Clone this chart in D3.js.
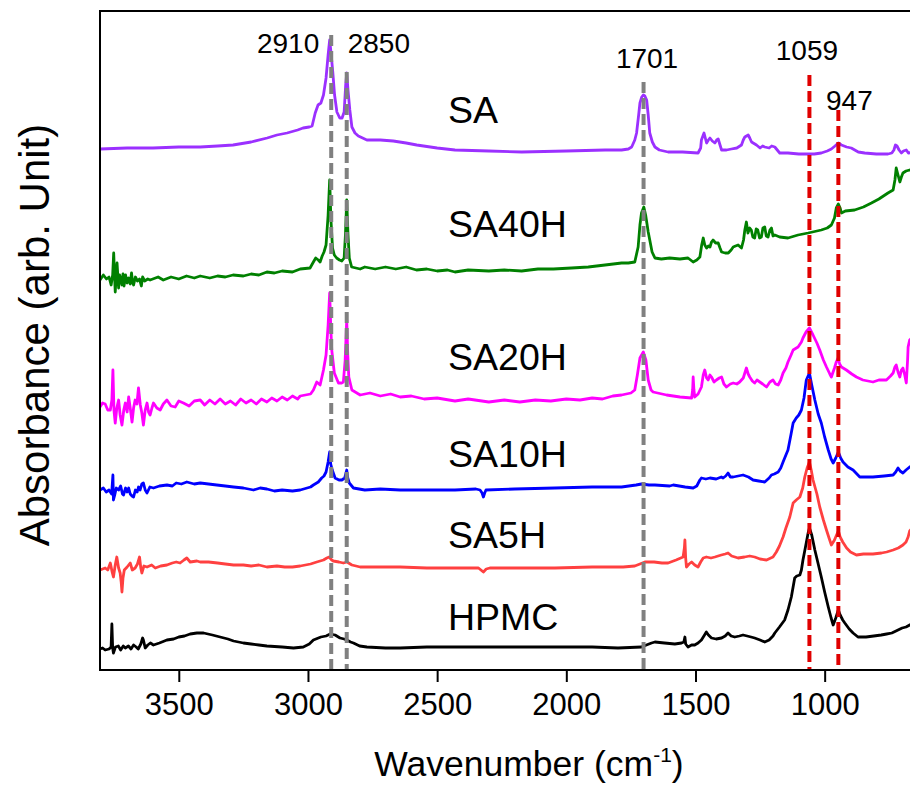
<!DOCTYPE html>
<html>
<head>
<meta charset="utf-8">
<script src="https://cdn.jsdelivr.net/npm/d3@7"></script>
<style>
  body { margin: 0; background: #fff; }
  svg { display: block; }
  text { font-family: "Liberation Sans", Arial, Helvetica, sans-serif; fill: #000; }
</style>
</head>
<body>
<svg id="chart" width="910" height="785"></svg>
<script>
// ---- data: FTIR absorbance spectra, [wavenumber (cm-1), stacked absorbance (arb.)] ----
const seriesNames  = ["SA", "SA40H", "SA20H", "SA10H", "SA5H", "HPMC"];
const seriesColors = ["#9b30ff", "#008000", "#ff00ff", "#0000ff", "#ff4040", "#000000"];
const xTicks = [3500, 3000, 2500, 2000, 1500, 1000];

// marked bands
const peakWn     = [2910, 2850, 1701, 1059, 947];
const peakLabels = ["2910", "2850", "1701", "1059", "947"];
const peakColors = ["#808080", "#808080", "#808080", "#e00000", "#e00000"];

const spectrumSA = [[3805,5.21],[3700,5.22],[3600,5.22],[3500,5.23],[3417,5.23],[3350,5.24],[3290,5.25],[3220,5.28],[3158,5.32],[3120,5.35],[3081,5.37],[3040,5.40],[3019,5.42],[2995,5.43],[2984,5.44],[2972,5.57],[2961,5.65],[2950,5.67],[2940,5.75],[2930,5.92],[2922,6.15],[2916,6.30],[2910,6.15],[2904,5.98],[2897,5.75],[2888,5.58],[2877,5.52],[2868,5.52],[2860,5.58],[2854,5.85],[2850,5.97],[2845,5.80],[2838,5.60],[2830,5.43],[2818,5.37],[2805,5.34],[2772,5.30],[2720,5.30],[2670,5.29],[2620,5.27],[2579,5.25],[2500,5.22],[2431,5.20],[2300,5.19],[2173,5.18],[2000,5.19],[1850,5.20],[1786,5.20],[1760,5.21],[1747,5.23],[1735,5.30],[1728,5.37],[1720,5.55],[1715,5.67],[1708,5.73],[1702,5.75],[1696,5.74],[1689,5.70],[1683,5.55],[1677,5.37],[1667,5.28],[1657,5.23],[1640,5.20],[1606,5.18],[1550,5.18],[1490,5.17],[1480,5.22],[1477,5.30],[1467,5.37],[1460,5.30],[1457,5.27],[1450,5.30],[1444,5.32],[1435,5.29],[1425,5.27],[1418,5.30],[1412,5.31],[1405,5.25],[1399,5.20],[1380,5.20],[1361,5.21],[1340,5.22],[1322,5.25],[1315,5.30],[1309,5.33],[1296,5.35],[1290,5.32],[1283,5.28],[1264,5.25],[1250,5.22],[1240,5.24],[1232,5.23],[1215,5.22],[1205,5.24],[1193,5.23],[1174,5.17],[1142,5.17],[1100,5.16],[1064,5.16],[1040,5.16],[1013,5.17],[990,5.19],[974,5.21],[960,5.24],[947,5.27],[935,5.25],[915,5.23],[897,5.22],[870,5.18],[845,5.17],[800,5.16],[755,5.16],[740,5.17],[732,5.20],[726,5.25],[720,5.24],[712,5.20],[703,5.17],[695,5.19],[684,5.20],[676,5.17],[650,5.18]];

const spectrumSA40H = [[3805,3.90],[3792,3.95],[3780,3.91],[3770,3.93],[3762,3.85],[3756,3.95],[3752,4.17],[3748,3.90],[3746,3.78],[3742,3.95],[3739,4.07],[3735,3.90],[3733,3.82],[3729,3.95],[3724,3.90],[3720,3.85],[3716,3.96],[3712,3.84],[3706,3.95],[3700,3.87],[3694,3.92],[3688,3.86],[3683,3.97],[3679,3.88],[3675,3.85],[3668,3.93],[3660,3.89],[3652,3.91],[3645,3.84],[3640,3.93],[3632,3.89],[3620,3.91],[3611,3.90],[3580,3.93],[3560,3.90],[3530,3.93],[3500,3.91],[3470,3.94],[3440,3.92],[3417,3.94],[3380,3.92],[3350,3.94],[3320,3.93],[3290,3.95],[3250,3.94],[3220,3.96],[3190,3.95],[3159,3.98],[3130,3.97],[3100,3.99],[3060,3.98],[3030,4.01],[2992,4.02],[2979,4.08],[2970,4.12],[2960,4.10],[2953,4.08],[2945,4.14],[2938,4.18],[2930,4.25],[2922,4.55],[2916,4.90],[2911,4.50],[2905,4.22],[2898,4.15],[2889,4.12],[2878,4.10],[2869,4.09],[2860,4.12],[2855,4.35],[2850,4.70],[2845,4.35],[2840,4.12],[2831,4.03],[2798,4.01],[2780,4.03],[2740,4.01],[2700,4.03],[2660,4.01],[2620,4.03],[2580,4.00],[2540,4.01],[2500,3.99],[2460,4.00],[2431,3.98],[2380,4.00],[2300,3.99],[2240,4.00],[2173,3.99],[2110,4.01],[2050,4.01],[1980,4.02],[1915,4.03],[1850,4.05],[1786,4.07],[1760,4.07],[1735,4.08],[1722,4.23],[1715,4.45],[1709,4.57],[1700,4.63],[1693,4.55],[1690,4.50],[1683,4.38],[1677,4.30],[1668,4.18],[1657,4.12],[1632,4.11],[1600,4.12],[1560,4.11],[1529,4.12],[1509,4.08],[1495,4.10],[1483,4.13],[1476,4.25],[1470,4.32],[1464,4.25],[1457,4.22],[1450,4.24],[1444,4.23],[1438,4.28],[1432,4.30],[1422,4.27],[1412,4.27],[1405,4.22],[1399,4.18],[1385,4.17],[1373,4.17],[1362,4.20],[1354,4.23],[1345,4.24],[1335,4.25],[1322,4.22],[1314,4.30],[1309,4.40],[1303,4.48],[1297,4.37],[1290,4.42],[1284,4.40],[1278,4.33],[1271,4.32],[1265,4.41],[1259,4.40],[1252,4.32],[1245,4.33],[1239,4.42],[1232,4.43],[1226,4.34],[1219,4.33],[1212,4.40],[1206,4.42],[1200,4.34],[1193,4.35],[1174,4.33],[1142,4.32],[1103,4.35],[1064,4.37],[1013,4.40],[990,4.42],[974,4.45],[962,4.52],[955,4.62],[947,4.66],[940,4.62],[935,4.57],[920,4.59],[884,4.60],[850,4.63],[819,4.67],[790,4.71],[755,4.77],[735,4.80],[728,4.90],[723,5.02],[716,4.95],[709,4.88],[703,4.93],[697,4.97],[685,4.99],[671,5.00],[650,5.00]];

const spectrumSA20H = [[3805,2.63],[3795,2.67],[3785,2.66],[3775,2.60],[3765,2.60],[3759,2.70],[3755,3.00],[3751,2.60],[3746,2.47],[3740,2.62],[3733,2.70],[3727,2.55],[3720,2.45],[3713,2.60],[3707,2.67],[3700,2.58],[3694,2.73],[3688,2.62],[3681,2.48],[3675,2.62],[3669,2.70],[3662,2.66],[3656,2.82],[3649,2.65],[3643,2.57],[3637,2.45],[3630,2.60],[3623,2.67],[3617,2.58],[3611,2.55],[3604,2.62],[3598,2.67],[3585,2.62],[3572,2.60],[3560,2.66],[3546,2.70],[3530,2.64],[3514,2.63],[3500,2.69],[3482,2.67],[3460,2.64],[3440,2.69],[3417,2.70],[3400,2.65],[3380,2.70],[3360,2.66],[3340,2.71],[3320,2.66],[3300,2.69],[3280,2.65],[3260,2.71],[3240,2.67],[3220,2.70],[3200,2.66],[3180,2.71],[3159,2.68],[3140,2.72],[3120,2.69],[3100,2.73],[3080,2.70],[3060,2.74],[3040,2.71],[3030,2.74],[2990,2.76],[2979,2.80],[2966,2.88],[2953,2.85],[2940,3.00],[2930,3.15],[2922,3.45],[2916,3.77],[2912,3.45],[2908,3.20],[2898,2.97],[2882,2.87],[2870,2.87],[2863,2.88],[2856,3.10],[2850,3.50],[2846,3.15],[2842,2.93],[2830,2.80],[2798,2.75],[2760,2.77],[2720,2.74],[2680,2.76],[2643,2.73],[2600,2.74],[2550,2.71],[2500,2.72],[2431,2.69],[2380,2.71],[2300,2.68],[2240,2.70],[2180,2.68],[2120,2.70],[2060,2.69],[2000,2.71],[1947,2.70],[1900,2.72],[1860,2.71],[1820,2.74],[1786,2.75],[1750,2.77],[1735,2.80],[1725,2.95],[1715,3.12],[1702,3.18],[1692,3.10],[1683,2.90],[1672,2.80],[1664,2.78],[1612,2.75],[1560,2.73],[1515,2.72],[1511,2.80],[1509,2.93],[1506,2.80],[1503,2.73],[1490,2.76],[1477,2.83],[1470,2.95],[1464,3.00],[1457,2.92],[1451,2.90],[1444,2.95],[1438,2.93],[1428,2.88],[1419,2.90],[1408,2.92],[1399,2.93],[1390,2.86],[1380,2.83],[1365,2.86],[1354,2.87],[1340,2.86],[1329,2.88],[1315,2.92],[1303,3.02],[1296,2.96],[1290,2.93],[1280,2.89],[1271,2.87],[1262,2.90],[1251,2.88],[1240,2.86],[1225,2.83],[1212,2.88],[1200,2.90],[1190,2.86],[1180,2.85],[1170,2.90],[1161,2.97],[1150,3.02],[1142,3.08],[1130,3.15],[1122,3.20],[1103,3.23],[1090,3.28],[1084,3.32],[1072,3.38],[1059,3.42],[1045,3.35],[1030,3.27],[1019,3.20],[1005,3.10],[993,3.03],[980,2.96],[974,2.93],[962,3.02],[955,3.08],[948,3.12],[942,3.06],[935,3.03],[916,3.00],[895,2.96],[877,2.93],[852,2.90],[813,2.88],[790,2.90],[761,2.90],[745,2.94],[735,2.97],[728,3.03],[723,3.05],[716,2.98],[709,2.93],[703,3.00],[697,3.02],[690,2.95],[684,2.87],[679,3.10],[677,3.23],[671,3.30],[650,3.35]];

const spectrumSA10H = [[3805,1.80],[3792,1.82],[3781,1.78],[3770,1.80],[3760,1.76],[3755,1.95],[3753,1.70],[3748,1.75],[3742,1.82],[3733,1.80],[3725,1.84],[3718,1.76],[3714,1.75],[3706,1.82],[3700,1.78],[3694,1.82],[3688,1.76],[3681,1.74],[3675,1.73],[3668,1.80],[3661,1.78],[3656,1.83],[3650,1.80],[3643,1.86],[3637,1.87],[3630,1.80],[3623,1.77],[3612,1.83],[3598,1.82],[3575,1.84],[3546,1.85],[3525,1.84],[3510,1.87],[3490,1.86],[3469,1.88],[3440,1.86],[3417,1.87],[3385,1.86],[3353,1.85],[3320,1.84],[3288,1.83],[3250,1.82],[3211,1.80],[3185,1.82],[3159,1.81],[3130,1.79],[3100,1.80],[3060,1.79],[3030,1.80],[2990,1.83],[2979,1.85],[2960,1.88],[2947,1.92],[2938,1.94],[2930,1.98],[2922,2.08],[2916,2.18],[2912,2.06],[2906,2.00],[2895,1.92],[2880,1.90],[2869,1.90],[2858,1.92],[2853,1.97],[2850,2.00],[2846,1.92],[2840,1.87],[2824,1.82],[2780,1.80],[2720,1.81],[2643,1.80],[2540,1.80],[2431,1.80],[2350,1.81],[2334,1.80],[2326,1.77],[2321,1.73],[2316,1.77],[2311,1.80],[2200,1.81],[2044,1.82],[1900,1.83],[1786,1.83],[1730,1.85],[1709,1.86],[1680,1.85],[1657,1.85],[1600,1.84],[1586,1.85],[1540,1.83],[1509,1.82],[1495,1.84],[1483,1.90],[1477,1.92],[1460,1.91],[1444,1.92],[1420,1.91],[1400,1.93],[1393,1.92],[1383,1.94],[1374,1.97],[1365,1.93],[1354,1.93],[1335,1.94],[1316,1.95],[1295,1.93],[1277,1.90],[1255,1.89],[1232,1.88],[1215,1.92],[1206,1.95],[1195,1.96],[1180,1.98],[1170,2.02],[1161,2.08],[1150,2.15],[1142,2.20],[1130,2.36],[1122,2.47],[1110,2.52],[1100,2.55],[1090,2.60],[1080,2.72],[1071,2.90],[1059,2.97],[1050,2.85],[1038,2.70],[1025,2.56],[1013,2.47],[1000,2.33],[986,2.20],[975,2.11],[967,2.07],[957,2.12],[947,2.18],[938,2.12],[929,2.08],[910,2.03],[890,2.00],[864,1.93],[840,1.93],[813,1.93],[770,1.94],[735,1.95],[725,1.98],[716,2.02],[708,1.99],[697,1.97],[685,2.00],[671,2.03],[650,2.06]];

const spectrumSA5H = [[3805,1.00],[3795,1.01],[3785,1.02],[3775,1.00],[3765,1.07],[3758,0.98],[3753,0.93],[3746,1.05],[3740,1.13],[3733,1.02],[3727,0.97],[3723,0.88],[3720,0.78],[3716,0.92],[3711,1.00],[3700,1.03],[3688,1.07],[3680,1.00],[3669,1.02],[3660,1.06],[3652,1.13],[3647,1.02],[3643,0.97],[3635,1.04],[3623,1.03],[3605,1.05],[3591,1.02],[3570,1.04],[3546,1.05],[3525,1.07],[3510,1.08],[3495,1.07],[3480,1.10],[3469,1.12],[3456,1.08],[3430,1.09],[3417,1.08],[3385,1.08],[3350,1.07],[3320,1.06],[3288,1.05],[3250,1.05],[3220,1.04],[3190,1.05],[3159,1.03],[3120,1.04],[3090,1.03],[3060,1.03],[3030,1.04],[2990,1.06],[2966,1.08],[2940,1.10],[2927,1.12],[2918,1.13],[2908,1.10],[2902,1.09],[2880,1.08],[2863,1.07],[2849,1.08],[2830,1.05],[2798,1.03],[2720,1.03],[2643,1.03],[2540,1.02],[2431,1.02],[2340,1.02],[2321,0.98],[2310,1.01],[2296,1.02],[2180,1.02],[2044,1.02],[1900,1.03],[1780,1.03],[1735,1.04],[1715,1.06],[1696,1.08],[1660,1.08],[1630,1.07],[1606,1.07],[1575,1.10],[1548,1.13],[1543,1.22],[1541,1.30],[1538,1.12],[1535,1.03],[1525,1.06],[1515,1.08],[1503,1.05],[1490,1.03],[1480,1.08],[1470,1.12],[1458,1.13],[1440,1.12],[1425,1.13],[1400,1.15],[1385,1.16],[1374,1.17],[1360,1.14],[1335,1.12],[1310,1.13],[1290,1.14],[1271,1.13],[1250,1.11],[1225,1.10],[1200,1.13],[1187,1.18],[1175,1.24],[1161,1.33],[1150,1.42],[1135,1.53],[1122,1.67],[1110,1.70],[1096,1.73],[1085,1.82],[1077,1.93],[1068,2.02],[1059,2.08],[1052,2.00],[1045,1.90],[1030,1.76],[1019,1.63],[1005,1.50],[993,1.40],[983,1.32],[974,1.25],[962,1.30],[954,1.35],[947,1.39],[940,1.33],[930,1.28],[915,1.22],[900,1.18],[877,1.15],[850,1.16],[813,1.16],[780,1.17],[760,1.18],[735,1.20],[715,1.22],[697,1.25],[685,1.28],[677,1.33],[671,1.39],[650,1.45]];

const spectrumHPMC = [[3805,0.21],[3795,0.22],[3785,0.20],[3770,0.21],[3762,0.23],[3759,0.46],[3756,0.22],[3753,0.17],[3745,0.23],[3734,0.24],[3725,0.20],[3715,0.24],[3707,0.22],[3695,0.24],[3685,0.21],[3675,0.25],[3665,0.23],[3657,0.21],[3647,0.26],[3640,0.32],[3637,0.30],[3630,0.22],[3620,0.25],[3610,0.27],[3598,0.25],[3575,0.27],[3546,0.30],[3520,0.31],[3500,0.33],[3478,0.34],[3456,0.36],[3430,0.37],[3404,0.37],[3370,0.35],[3340,0.33],[3310,0.31],[3288,0.29],[3250,0.27],[3220,0.26],[3190,0.25],[3159,0.24],[3100,0.23],[3056,0.22],[3018,0.23],[2995,0.26],[2979,0.30],[2950,0.33],[2930,0.34],[2914,0.36],[2895,0.35],[2876,0.32],[2860,0.31],[2850,0.30],[2835,0.28],[2824,0.27],[2800,0.24],[2772,0.23],[2700,0.22],[2643,0.22],[2540,0.23],[2431,0.23],[2300,0.23],[2180,0.23],[2044,0.23],[1900,0.23],[1800,0.22],[1709,0.23],[1690,0.25],[1670,0.27],[1657,0.28],[1620,0.27],[1580,0.26],[1554,0.27],[1545,0.28],[1541,0.33],[1538,0.26],[1529,0.23],[1515,0.25],[1503,0.25],[1490,0.27],[1477,0.30],[1465,0.35],[1458,0.38],[1450,0.35],[1438,0.32],[1420,0.31],[1399,0.32],[1385,0.34],[1374,0.37],[1362,0.34],[1348,0.33],[1330,0.34],[1316,0.35],[1300,0.34],[1285,0.33],[1271,0.32],[1250,0.30],[1232,0.28],[1215,0.30],[1200,0.34],[1193,0.37],[1175,0.43],[1155,0.50],[1142,0.60],[1129,0.73],[1116,0.92],[1108,0.94],[1096,0.95],[1090,1.00],[1084,1.10],[1075,1.22],[1064,1.37],[1059,1.42],[1050,1.35],[1038,1.20],[1025,1.06],[1013,0.93],[1000,0.78],[986,0.63],[975,0.52],[967,0.45],[957,0.52],[947,0.60],[940,0.55],[930,0.50],[922,0.47],[905,0.41],[890,0.37],[871,0.33],[840,0.33],[810,0.34],[781,0.35],[760,0.36],[740,0.37],[716,0.40],[700,0.42],[685,0.43],[671,0.45],[650,0.48]];

const spectra = [spectrumSA, spectrumSA40H, spectrumSA20H, spectrumSA10H, spectrumSA5H, spectrumHPMC];

// ---- layout ----
const plot = { left: 100, top: 11, right: 928, bottom: 670 };
const svg = d3.select("#chart");

const x = d3.scaleLinear().domain([3805, 600]).range([plot.left, plot.right]);
const y = d3.scaleLinear().domain([0, 6.59]).range([plot.bottom, plot.top]);

svg.append("defs").append("clipPath").attr("id", "plot-clip")
  .append("rect")
  .attr("x", plot.left).attr("y", plot.top)
  .attr("width", plot.right - plot.left).attr("height", plot.bottom - plot.top);

// spectra
const line = d3.line().x(d => x(d[0])).y(d => y(d[1]));
svg.append("g").attr("clip-path", "url(#plot-clip)")
  .selectAll("path").data(spectra).join("path")
  .attr("d", line)
  .attr("fill", "none")
  .attr("stroke", (d, i) => seriesColors[i])
  .attr("stroke-width", 2.8)
  .attr("stroke-linejoin", "round");

// dashed band markers (drawn above the spectra), each starting just under its label
const markerTop = [6.35, 5.98, 5.88, 5.95, 5.60];
svg.append("g").selectAll("line").data(peakWn).join("line")
  .attr("x1", d => x(d)).attr("x2", d => x(d))
  .attr("y1", (d, i) => y(markerTop[i]))
  .attr("y2", plot.bottom)
  .attr("stroke", (d, i) => peakColors[i])
  .attr("stroke-width", 4)
  .attr("stroke-dasharray", "11,5");

// band labels
const labelDx = [-12, 1, 3.5, -2.5, 11];
const labelAnchor = ["end", "start", "middle", "middle", "middle"];
const labelY = [53, 53, 68, 60, 110];
svg.append("g").selectAll("text").data(peakLabels).join("text")
  .attr("x", (d, i) => x(peakWn[i]) + labelDx[i])
  .attr("y", (d, i) => labelY[i])
  .attr("text-anchor", (d, i) => labelAnchor[i])
  .style("font-size", "28px")
  .text(d => d);

// sample names
const nameY = [123, 237, 370, 467, 548, 630];
svg.append("g").selectAll("text").data(seriesNames).join("text")
  .attr("x", 448)
  .attr("y", (d, i) => nameY[i])
  .style("font-size", "37.5px")
  .text(d => d);

// frame
svg.append("rect")
  .attr("x", plot.left).attr("y", plot.top)
  .attr("width", plot.right - plot.left).attr("height", plot.bottom - plot.top)
  .attr("fill", "none").attr("stroke", "#000").attr("stroke-width", 2);

// bottom axis
const xAxis = svg.append("g")
  .attr("transform", `translate(0,${plot.bottom})`)
  .call(d3.axisBottom(x).tickValues(xTicks).tickSize(12).tickSizeOuter(0).tickPadding(11).tickFormat(d3.format("d")));
xAxis.select(".domain").remove();
xAxis.selectAll(".tick line").attr("stroke", "#000").attr("stroke-width", 2);
xAxis.selectAll(".tick text")
  .attr("fill", "#000")
  .style("font-size", "31px")
  .style("font-family", '"Liberation Sans", Arial, Helvetica, sans-serif');

// axis titles
const xTitle = svg.append("text")
  .attr("x", 529).attr("y", 776)
  .attr("text-anchor", "middle")
  .style("font-size", "35.5px");
xTitle.append("tspan").text("Wavenumber (cm");
xTitle.append("tspan").attr("dy", -14).style("font-size", "21px").text("-1");
xTitle.append("tspan").attr("dy", 14).text(")");

svg.append("text")
  .attr("transform", "translate(49,335) rotate(-90)")
  .attr("text-anchor", "middle")
  .style("font-size", "42px")
  .text("Absorbance (arb. Unit)");
</script>
</body>
</html>
